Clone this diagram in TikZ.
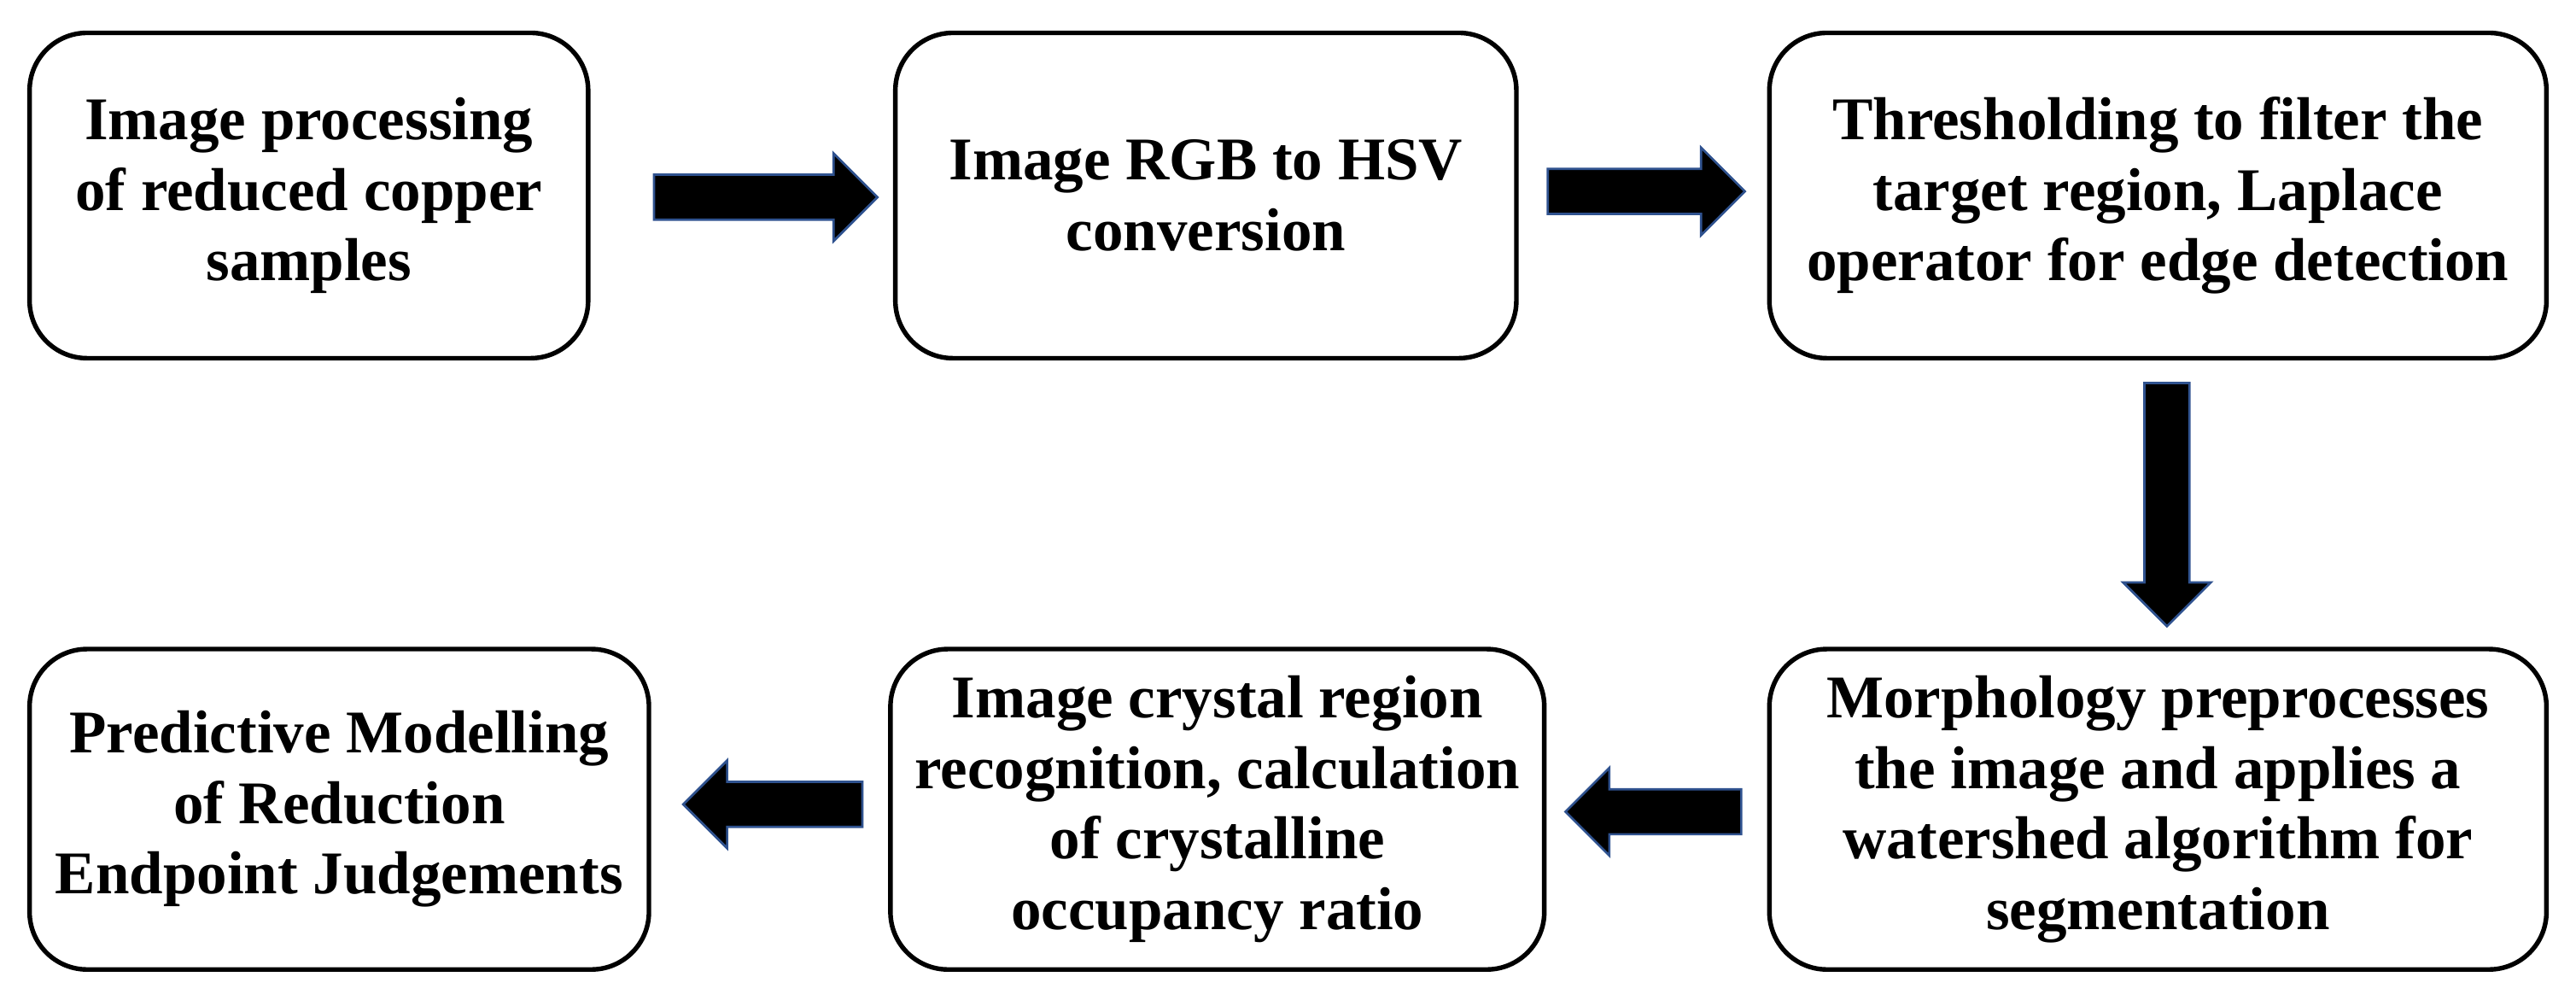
\documentclass[tikz,border=0pt]{standalone}
\usepackage{fontspec}
\setmainfont{Liberation Serif}
\usetikzlibrary{shapes.arrows,positioning,calc}
\definecolor{arrowblue}{RGB}{47,82,143}

\begin{document}
\begin{tikzpicture}[
	etape/.style={draw, line width=0.8pt, rounded corners=0.35cm, align=center, inner sep=0pt,
		font=\fontsize{10.5}{12.2}\selectfont\bfseries},
	fleche/.style={single arrow, fill=black, draw=arrowblue, line width=0.4pt, inner sep=0.13cm,
		single arrow head extend=0.13cm, minimum height=#1, anchor=tail}
	]
	\useasboundingbox (0,0) rectangle (15.68,-6.12);
	% Ligne du haut
	\node[etape, minimum width=3.40cm, minimum height=1.98cm] (b1) at (1.88,-1.19) {Image processing\\of reduced copper\\samples};
	\node[etape, minimum width=3.78cm, minimum height=1.98cm] (b2) at (7.34,-1.19) {Image RGB to HSV\\conversion};
	\node[etape, minimum width=4.73cm, minimum height=1.98cm] (b3) at (13.135,-1.19) {Thresholding to filter the\\target region, Laplace\\operator for edge detection};
	
	% Ligne du bas
	\node[etape, minimum width=3.77cm, minimum height=1.95cm] (b4) at (2.065,-4.925) {Predictive Modelling\\of Reduction\\Endpoint Judgements};
	\node[etape, minimum width=3.98cm, minimum height=1.95cm] (b5) at (7.41,-4.925) {Image crystal region\\recognition, calculation\\of crystalline\\occupancy ratio};
	\node[etape, minimum width=4.73cm, minimum height=1.95cm] (b6) at (13.135,-4.925) {Morphology preprocesses\\the image and applies a\\watershed algorithm for\\segmentation};
	
	% Fleches
	\node[fleche=1.36cm] (f1) at ($(b1.east)+(0.38,-0.01)$) {};
	\node[fleche=1.20cm] (f2) at ($(b2.east)+(0.17,0.025)$) {};
	\node[fleche=1.48cm, rotate=-90] (f3) at ($(b3.south)+(0.055,-0.13)$) {};
	\node[fleche=1.07cm, rotate=180] (f4) at ($(b6.west)+(-0.15,-0.015)$) {};
	\node[fleche=1.09cm, rotate=180] (f5) at ($(b5.west)+(-0.15,0.03)$) {};
\end{tikzpicture}
\end{document}
